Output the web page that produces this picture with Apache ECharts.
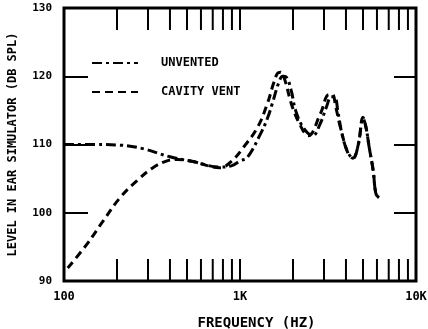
<!DOCTYPE html>
<html>
<head>
<meta charset="utf-8">
<script src="https://cdn.jsdelivr.net/npm/echarts@6/dist/echarts.min.js"></script>
<style>
  html, body { margin: 0; padding: 0; background: #fff; }
  #main { width: 428px; height: 329px; }
</style>
</head>
<body>
<div id="main"></div>
<script>
// frequency (Hz) / level (dB SPL)
const unventedFreq = [100, 150, 210, 280, 400, 540, 770, 900, 1000, 1100, 1310, 1430, 1526, 1657, 1750, 1830, 1950, 2070, 2300, 2589, 2850, 3100, 3300, 3450, 3600, 3800, 4109, 4400, 4700, 5000, 5200, 5420, 5710, 5917, 6160];
const unventedLevel = [110.0, 110.0, 109.9, 109.4, 108.2, 107.5, 106.7, 106.9, 107.6, 108.1, 111.6, 113.8, 116.0, 119.0, 120.0, 119.9, 118.0, 115.0, 112.4, 111.3, 113.0, 115.5, 117.0, 117.0, 114.8, 111.5, 108.8, 108.0, 110.0, 113.8, 112.5, 109.6, 106.2, 102.8, 102.2];

const ventFreq = [105, 135, 167, 208, 260, 320, 385, 440, 540, 770, 900, 1047, 1257, 1431, 1553, 1630, 1700, 1780, 1991, 2276, 2445, 2871, 3200, 3350, 3500, 3722, 4109, 4375, 4700, 4995, 5200, 5419, 5710, 5917, 6160];
const ventLevel = [91.9, 95.4, 98.8, 102.2, 104.7, 106.6, 107.6, 107.8, 107.5, 106.6, 107.6, 109.6, 112.5, 116.0, 119.0, 120.4, 120.6, 119.8, 115.4, 112.1, 111.3, 114.6, 117.3, 117.3, 115.5, 112.5, 108.7, 108.0, 110.0, 114.0, 112.5, 109.6, 106.2, 102.8, 102.2];

// inward ticks on the frequency axis
const freqTicks = [200, 300, 400, 500, 600, 700, 800, 900, 1000, 2000, 3000, 4000, 5000, 6000, 7000, 8000, 9000];
const seriesNames = ['UNVENTED', 'CAVITY VENT'];

const FONT = 'DejaVu Sans Mono';
const yMin = 90, yMax = 130;

const chart = echarts.init(document.getElementById('main'));

const pairs = (xs, ys) => xs.map((x, i) => [x, ys[i]]);

chart.setOption({
  animation: false,
  backgroundColor: '#fff',
  grid: {
    left: 64, right: 12, top: 8, bottom: 48,
    outerBoundsMode: 'none',
    show: true, borderColor: '#000', borderWidth: 3, backgroundColor: 'transparent'
  },
  legend: {
    data: seriesNames,
    orient: 'vertical',
    left: 86, top: 52,
    itemWidth: 46, itemHeight: 14, itemGap: 17,
    itemStyle: { opacity: 0 },
    textStyle: { fontFamily: FONT, fontWeight: 'bold', fontSize: 12, color: '#000', padding: [0, 0, 0, 18] }
  },
  xAxis: {
    type: 'log', logBase: 10, min: 100, max: 10000,
    name: 'FREQUENCY (HZ)', nameLocation: 'middle', nameGap: 35,
    nameTextStyle: { fontFamily: FONT, fontWeight: 'bold', fontSize: 14, color: '#000', padding: [0, 0, 0, 33] },
    axisLine: { show: false },
    axisTick: { show: false },
    splitLine: { show: false },
    minorTick: { show: false },
    axisLabel: {
      margin: 10, fontFamily: FONT, fontWeight: 'bold', fontSize: 12, color: '#000',
      formatter: v => v >= 1000 ? (v / 1000) + 'K' : String(v)
    }
  },
  yAxis: [{
    type: 'value', min: yMin, max: yMax, interval: 10,
    name: 'LEVEL IN EAR SIMULATOR (DB SPL)', nameLocation: 'middle', nameGap: 45,
    nameTextStyle: { fontFamily: FONT, fontWeight: 'bold', fontSize: 12, color: '#000' },
    axisLine: { show: false },
    axisTick: { show: true, inside: true, length: 24, lineStyle: { color: '#000', width: 2 } },
    splitLine: { show: false },
    axisLabel: { margin: 12, fontFamily: FONT, fontWeight: 'bold', fontSize: 11, color: '#000' }
  }, {
    type: 'value', min: yMin, max: yMax, interval: 10, position: 'right',
    axisLine: { show: false },
    axisTick: { show: true, inside: true, length: 22, lineStyle: { color: '#000', width: 2 } },
    splitLine: { show: false },
    axisLabel: { show: false }
  }],
  series: [
    {
      name: 'UNVENTED', type: 'line', smooth: 0.4, symbol: 'none',
      data: pairs(unventedFreq, unventedLevel),
      lineStyle: { color: '#000', width: 3, type: [10, 4, 3, 4] },
      itemStyle: { color: '#000' }
    },
    {
      name: 'CAVITY VENT', type: 'line', smooth: 0.4, symbol: 'none',
      data: pairs(ventFreq, ventLevel),
      lineStyle: { color: '#000', width: 3, type: [8, 5] },
      itemStyle: { color: '#000' }
    },
    {
      // tick marks on bottom and top borders
      type: 'custom', silent: true,
      data: freqTicks.map(f => [f, yMin]),
      renderItem: function (params, api) {
        const f = api.value(0);
        const bottom = api.coord([f, yMin]);
        const top = api.coord([f, yMax]);
        const style = { stroke: '#000', lineWidth: 2 };
        return {
          type: 'group',
          children: [
            { type: 'line', shape: { x1: bottom[0], y1: bottom[1], x2: bottom[0], y2: bottom[1] - 22 }, style: style },
            { type: 'line', shape: { x1: top[0], y1: top[1], x2: top[0], y2: top[1] + 22 }, style: style }
          ]
        };
      }
    }
  ]
});
</script>
</body>
</html>
